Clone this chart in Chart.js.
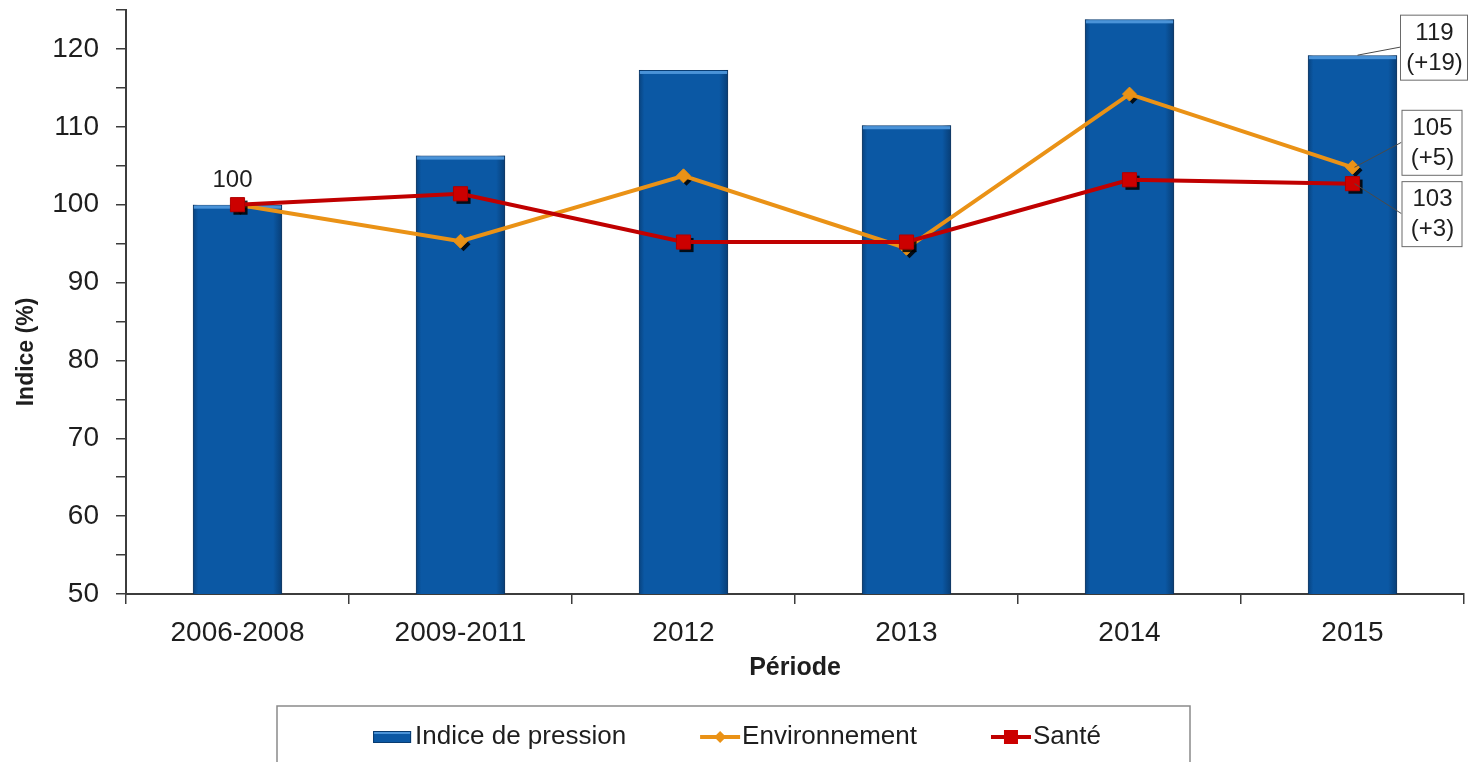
<!DOCTYPE html>
<html>
<head>
<meta charset="utf-8">
<script src="https://cdn.jsdelivr.net/npm/chart.js@4.4.1/dist/chart.umd.min.js"></script>
<style>
  html, body { margin: 0; padding: 0; background: #fff; overflow: hidden; }
  #wrap { width: 1470px; height: 762px; position: relative; }
  #chart { display: block; }
</style>
</head>
<body>
<div id="wrap"><canvas id="chart"></canvas></div>
<script>
"use strict";

// data
const periodes = ['2006-2008', '2009-2011', '2012', '2013', '2014', '2015'];
const indicePression = [100, 106.3, 117.3, 110.2, 123.8, 119.2];
const environnement = [100, 95.3, 103.7, 94.4, 114.2, 104.8];
const sante = [100, 101.4, 95.2, 95.2, 103.2, 102.7];
const yTicks = { min: 50, max: 125, step: 5, labelStep: 10 };

const FONT = "'Liberation Sans', Arial, sans-serif";
const BLUE = '#0B58A4';
const BLUE_DARK = '#083B70';
const BLUE_LIGHT = '#4A93D8';
const ORANGE = '#EA9216';
const RED = '#C00000';
const AXIS = '#3C3C3C';
const TEXT = '#1E1E1E';

(() => {
  const canvas = document.getElementById('chart');

  // marker shadows + bar shading
  const decorPlugin = {
    id: 'decor',
    beforeDatasetDraw(chart, args) {
      const ds = chart.data.datasets[args.index];
      if (ds.type !== 'line') return;
      const ctx = chart.ctx;
      ctx.save();
      ctx.fillStyle = 'rgba(0,0,0,0.85)';
      for (const pt of args.meta.data) {
        const r = ds.pointRadius;
        if (ds.pointStyle === 'rect') {
          const s = r * Math.SQRT1_2;
          ctx.fillRect(pt.x - s + 3, pt.y - s + 3, 2 * s, 2 * s);
        } else {
          ctx.beginPath();
          ctx.moveTo(pt.x + 3, pt.y - r + 3);
          ctx.lineTo(pt.x + r + 3, pt.y + 3);
          ctx.lineTo(pt.x + 3, pt.y + r + 3);
          ctx.lineTo(pt.x - r + 3, pt.y + 3);
          ctx.closePath();
          ctx.fill();
        }
      }
      ctx.restore();
    },
    afterDatasetDraw(chart, args) {
      const ds = chart.data.datasets[args.index];
      if (ds.type !== 'bar') return;
      const ctx = chart.ctx;
      const bottom = chart.chartArea.bottom;
      ctx.save();
      for (const bar of args.meta.data) {
        const left = bar.x - bar.width / 2;
        const h = Math.min(bar.base, bottom) - bar.y;
        const g = ctx.createLinearGradient(left, 0, left + bar.width, 0);
        g.addColorStop(0, 'rgba(5,40,80,0.45)');
        g.addColorStop(0.06, 'rgba(5,40,80,0)');
        g.addColorStop(0.9, 'rgba(5,40,80,0)');
        g.addColorStop(1, 'rgba(5,40,80,0.55)');
        ctx.fillStyle = g;
        ctx.fillRect(left, bar.y, bar.width, h);
        ctx.fillStyle = BLUE_LIGHT;
        ctx.fillRect(left + 1, bar.y + 1, bar.width - 2, 3);
      }
      ctx.restore();
    }
  };

  // value labels, boxed callouts, y title, legend
  const labelsPlugin = {
    id: 'labels',
    afterDraw(chart) {
      const ctx = chart.ctx;
      const x = chart.scales.x;
      const y = chart.scales.y;
      const last = periodes.length - 1;
      ctx.save();

      // "100" above the base point
      ctx.font = '24px ' + FONT;
      ctx.fillStyle = TEXT;
      ctx.textAlign = 'center';
      ctx.textBaseline = 'middle';
      ctx.fillText(String(Math.round(sante[0])), x.getPixelForValue(0) - 5, y.getPixelForValue(sante[0]) - 24);

      // boxed callouts on the last period
      const callouts = [
        { v: indicePression[last], anchorDx: 5, dy: -8, boxDx: 48, w: 67 },
        { v: environnement[last], anchorDx: 2, dy: -25, boxDx: 49, w: 60 },
        { v: sante[last], anchorDx: 2, dy: 30, boxDx: 49, w: 60 }
      ];
      const px = x.getPixelForValue(last);
      for (const c of callouts) {
        const py = y.getPixelForValue(c.v);
        const bx = Math.min(px + c.boxDx, chart.width - c.w - 3);
        const by = py + c.dy;
        const bh = 65;
        ctx.strokeStyle = '#4A4A4A';
        ctx.lineWidth = 1;
        ctx.beginPath();
        ctx.moveTo(px + c.anchorDx, py);
        ctx.lineTo(bx, by);
        ctx.stroke();
        ctx.fillStyle = '#fff';
        ctx.fillRect(bx, by - bh / 2, c.w, bh);
        ctx.strokeStyle = '#6A6A6A';
        ctx.strokeRect(bx + 0.5, by - bh / 2 + 0.5, c.w, bh);
        const r = Math.round(c.v);
        ctx.fillStyle = TEXT;
        ctx.font = '24px ' + FONT;
        ctx.fillText(String(r), bx + c.w / 2 + 1, by - 14);
        ctx.fillText('(+' + (r - 100) + ')', bx + c.w / 2 + 1, by + 16);
      }

      // y axis title
      ctx.save();
      ctx.translate(27, 352);
      ctx.rotate(-Math.PI / 2);
      ctx.font = 'bold 23px ' + FONT;
      ctx.fillStyle = TEXT;
      ctx.fillText('Indice (%)', 0, 0);
      ctx.restore();

      // legend box
      ctx.strokeStyle = '#8A8A8A';
      ctx.lineWidth = 1.5;
      ctx.strokeRect(277, 706, 913, 80);

      const ly = 737;
      ctx.font = '26px ' + FONT;
      ctx.textAlign = 'left';
      const items = chart.data.datasets.map(ds => ({ ds, w: 44 + ctx.measureText(ds.label).width }));
      const gap = 72;
      const total = items.reduce((s, it) => s + it.w, 0) + gap * (items.length - 1);
      let lx = 738 - total / 2;
      for (const it of items) {
        const ds = it.ds;
        if (ds.type === 'bar') {
          ctx.fillStyle = BLUE;
          ctx.fillRect(lx, ly - 6, 38, 12);
          ctx.fillStyle = BLUE_LIGHT;
          ctx.fillRect(lx, ly - 6, 38, 3);
          ctx.strokeStyle = BLUE_DARK;
          ctx.lineWidth = 1;
          ctx.strokeRect(lx + 0.5, ly - 5.5, 37, 11);
        } else {
          ctx.strokeStyle = ds.borderColor;
          ctx.lineWidth = 4;
          ctx.beginPath();
          ctx.moveTo(lx, ly);
          ctx.lineTo(lx + 40, ly);
          ctx.stroke();
          ctx.fillStyle = ds.pointBackgroundColor;
          if (ds.pointStyle === 'rect') {
            ctx.fillRect(lx + 13, ly - 7, 14, 14);
          } else {
            ctx.beginPath();
            ctx.moveTo(lx + 20, ly - 6);
            ctx.lineTo(lx + 26, ly);
            ctx.lineTo(lx + 20, ly + 6);
            ctx.lineTo(lx + 14, ly);
            ctx.closePath();
            ctx.fill();
          }
        }
        ctx.fillStyle = TEXT;
        ctx.textBaseline = 'middle';
        ctx.fillText(ds.label, lx + 42, ly);
        lx += it.w + gap;
      }
      ctx.restore();
    }
  };

  new Chart(canvas, {
    type: 'bar',
    data: {
      labels: periodes,
      datasets: [
        {
          type: 'bar',
          label: 'Indice de pression',
          data: indicePression,
          backgroundColor: BLUE,
          borderColor: BLUE_DARK,
          borderWidth: 1,
          borderSkipped: 'bottom',
          categoryPercentage: 0.8,
          barPercentage: 0.5,
          order: 3
        },
        {
          type: 'line',
          label: 'Environnement',
          data: environnement,
          borderColor: ORANGE,
          borderWidth: 4,
          pointStyle: 'rectRot',
          pointRadius: 7,
          pointBackgroundColor: ORANGE,
          pointBorderColor: ORANGE,
          pointBorderWidth: 1,
          tension: 0,
          order: 2
        },
        {
          type: 'line',
          label: 'Santé',
          data: sante,
          borderColor: RED,
          borderWidth: 4,
          pointStyle: 'rect',
          pointRadius: 10,
          pointBackgroundColor: '#CC0000',
          pointBorderColor: '#B00000',
          pointBorderWidth: 1,
          tension: 0,
          order: 1
        }
      ]
    },
    options: {
      responsive: true,
      maintainAspectRatio: false,
      devicePixelRatio: 1,
      animation: false,
      layout: { autoPadding: false, padding: { top: 10, right: 6, bottom: 57, left: 0 } },
      plugins: {
        legend: { display: false },
        tooltip: { enabled: false }
      },
      scales: {
        x: {
          grid: {
            display: true,
            drawOnChartArea: false,
            drawTicks: true,
            tickLength: 10,
            color: AXIS,
            lineWidth: 1.5,
            offset: true
          },
          border: { display: true, color: AXIS, width: 2 },
          ticks: { color: TEXT, font: { family: FONT, size: 28 }, padding: 12, maxRotation: 0 },
          title: {
            display: true,
            text: 'Période',
            color: TEXT,
            font: { family: FONT, size: 25, weight: 'bold' },
            padding: { top: 2, bottom: 22 }
          },
          afterFit(scale) {
            scale.height = 111;
            scale.paddingLeft = 0;
            scale.paddingRight = 0;
          }
        },
        y: {
          min: yTicks.min,
          max: yTicks.max,
          grid: {
            display: true,
            drawOnChartArea: false,
            drawTicks: true,
            tickLength: 10,
            color: AXIS,
            lineWidth: 1.5
          },
          border: { display: true, color: AXIS, width: 2 },
          ticks: {
            stepSize: yTicks.step,
            color: TEXT,
            font: { family: FONT, size: 28 },
            padding: 17,
            callback: v => (v % yTicks.labelStep === 0 ? v : '')
          },
          afterFit(scale) {
            scale.width = 126;
            scale.paddingTop = 0;
            scale.paddingBottom = 0;
          }
        }
      }
    },
    plugins: [decorPlugin, labelsPlugin]
  });
})();
</script>
</body>
</html>
